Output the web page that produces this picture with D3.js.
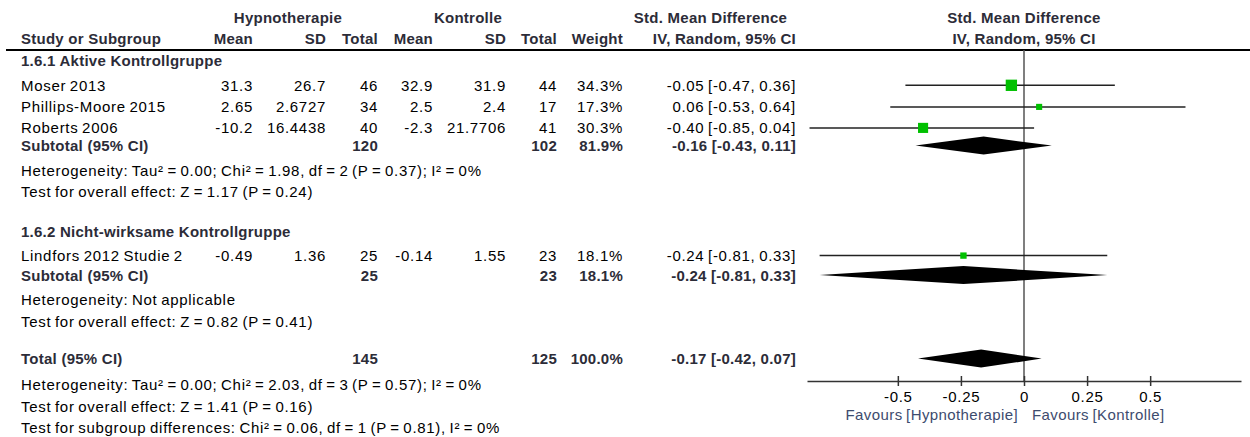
<!DOCTYPE html>
<html>
<head>
<meta charset="utf-8">
<script src="https://cdn.jsdelivr.net/npm/d3@7"></script>
<style>
  body { margin: 0; background: #fff; }
  svg text { font-family: "Liberation Sans", Arial, sans-serif; font-size: 15px; }
  .reg { fill: #000; letter-spacing: 0.7px; word-spacing: -1.2px; }
  .bold { fill: #2c2c38; font-weight: bold; letter-spacing: 0.25px; }
  .fav { fill: #3d4b6e; letter-spacing: 0.4px; word-spacing: -1px; }
</style>
</head>
<body>
<div id="forest"></div>
<script>
// studies
const studyNames = ["Moser 2013", "Phillips-Moore 2015", "Roberts 2006", "Lindfors 2012 Studie 2"];
const studyGroup = [0, 0, 0, 1];
const hypMean = ["31.3", "2.65", "-10.2", "-0.49"];
const hypSD = ["26.7", "2.6727", "16.4438", "1.36"];
const hypTotal = [46, 34, 40, 25];
const konMean = ["32.9", "2.5", "-2.3", "-0.14"];
const konSD = ["31.9", "2.4", "21.7706", "1.55"];
const konTotal = [44, 17, 41, 23];
const weights = [34.3, 17.3, 30.3, 18.1];
const smd = [-0.05, 0.06, -0.40, -0.24];
const ciLow = [-0.47, -0.53, -0.85, -0.81];
const ciHigh = [0.36, 0.64, 0.04, 0.33];

// subgroups
const groupTitles = ["1.6.1 Aktive Kontrollgruppe", "1.6.2 Nicht-wirksame Kontrollgruppe"];
const groupHypTotal = [120, 25];
const groupKonTotal = [102, 23];
const groupWeight = [81.9, 18.1];
const groupSmd = [-0.16, -0.24];
const groupLow = [-0.43, -0.81];
const groupHigh = [0.11, 0.33];
const groupHet = ["Heterogeneity: Tau\u00b2 = 0.00; Chi\u00b2 = 1.98, df = 2 (P = 0.37); I\u00b2 = 0%",
                  "Heterogeneity: Not applicable"];
const groupTest = ["Test for overall effect: Z = 1.17 (P = 0.24)",
                   "Test for overall effect: Z = 0.82 (P = 0.41)"];

// overall
const totalHyp = 145, totalKon = 125, totalWeight = 100.0;
const totalSmd = -0.17, totalLow = -0.42, totalHigh = 0.07;
const totalNotes = ["Heterogeneity: Tau\u00b2 = 0.00; Chi\u00b2 = 2.03, df = 3 (P = 0.57); I\u00b2 = 0%",
                    "Test for overall effect: Z = 1.41 (P = 0.16)",
                    "Test for subgroup differences: Chi\u00b2 = 0.06, df = 1 (P = 0.81), I\u00b2 = 0%"];

// axis
const tickValues = [-0.5, -0.25, 0, 0.25, 0.5];
const tickLabels = ["-0.5", "-0.25", "0", "0.25", "0.5"];
const axisExtent = [-0.86, 0.86];
const favoursLabels = ["Favours [Hypnotherapie]", "Favours [Kontrolle]"];

const W = 1250, H = 437;
const svg = d3.select("#forest").append("svg").attr("width", W).attr("height", H);

// column right edges
const col = { name: 21, hMean: 253, hSD: 326, hTot: 378, kMean: 433, kSD: 506, kTot: 557, wt: 623, ci: 796 };

// row baselines
const base = {
  h1: 22.5, h2: 44.3, rule: 50,
  title: [66, 237.3],
  study: [90.7, 112.3, 133.3, 261],
  sub: [151, 280.5],
  het: [176, 305],
  test: [196.7, 326.7],
  total: 364,
  notes: [390, 411.7, 433.3],
  axis: 381
};
const mid = 5.4; // baseline -> middle of text

const x = d3.scaleLinear().domain(axisExtent).range([807, 1241]);
const box = d3.scaleLinear().domain([0, 100]).range([0.8, 31.5]);

function txt(s, xp, yp, cls, anchor) {
  return svg.append("text").attr("x", xp).attr("y", yp)
    .attr("class", cls).attr("text-anchor", anchor || "start").text(s);
}
const fmtPct = d => d.toFixed(1) + "%";
const fmtCi = (m, l, h) => m.toFixed(2) + " [" + l.toFixed(2) + ", " + h.toFixed(2) + "]";

// header
txt("Hypnotherapie", 288, base.h1, "bold", "middle");
txt("Kontrolle", 468, base.h1, "bold", "middle");
txt("Std. Mean Difference", 710.5, base.h1, "bold", "middle");
txt("Std. Mean Difference", x(0), base.h1, "bold", "middle");
txt("Study or Subgroup", col.name, base.h2, "bold");
[["Mean", col.hMean], ["SD", col.hSD], ["Total", col.hTot], ["Mean", col.kMean],
 ["SD", col.kSD], ["Total", col.kTot], ["Weight", col.wt], ["IV, Random, 95% CI", col.ci]]
  .forEach(d => txt(d[0], d[1], base.h2, "bold", "end"));
txt("IV, Random, 95% CI", x(0), base.h2, "bold", "middle");

svg.append("line").attr("x1", 6).attr("x2", W).attr("y1", base.rule).attr("y2", base.rule)
  .attr("stroke", "#000").attr("stroke-width", 2);

// zero line
svg.append("line").attr("x1", x(0)).attr("x2", x(0)).attr("y1", base.rule).attr("y2", base.axis)
  .attr("stroke", "#555").attr("stroke-width", 1.5);

// subgroup titles + notes
groupTitles.forEach((t, g) => {
  txt(t, col.name, base.title[g], "bold");
  txt("Subtotal (95% CI)", col.name, base.sub[g], "bold");
  txt(groupHypTotal[g], col.hTot, base.sub[g], "bold", "end");
  txt(groupKonTotal[g], col.kTot, base.sub[g], "bold", "end");
  txt(fmtPct(groupWeight[g]), col.wt, base.sub[g], "bold", "end");
  txt(fmtCi(groupSmd[g], groupLow[g], groupHigh[g]), col.ci, base.sub[g], "bold", "end");
  txt(groupHet[g], col.name, base.het[g], "reg");
  txt(groupTest[g], col.name, base.test[g], "reg");
});

// study rows
studyNames.forEach((n, i) => {
  const yb = base.study[i];
  txt(n, col.name, yb, "reg");
  txt(hypMean[i], col.hMean, yb, "reg", "end");
  txt(hypSD[i], col.hSD, yb, "reg", "end");
  txt(hypTotal[i], col.hTot, yb, "reg", "end");
  txt(konMean[i], col.kMean, yb, "reg", "end");
  txt(konSD[i], col.kSD, yb, "reg", "end");
  txt(konTotal[i], col.kTot, yb, "reg", "end");
  txt(fmtPct(weights[i]), col.wt, yb, "reg", "end");
  txt(fmtCi(smd[i], ciLow[i], ciHigh[i]), col.ci, yb, "reg", "end");
});

// CI lines and boxes
const marks = svg.append("g");
marks.selectAll("line.ci").data(studyNames).join("line").attr("class", "ci")
  .attr("x1", (d, i) => x(ciLow[i])).attr("x2", (d, i) => x(ciHigh[i]))
  .attr("y1", (d, i) => base.study[i] - mid).attr("y2", (d, i) => base.study[i] - mid)
  .attr("stroke", "#222").attr("stroke-width", 1.5);
marks.selectAll("rect.box").data(studyNames).join("rect").attr("class", "box")
  .attr("x", (d, i) => x(smd[i]) - box(weights[i]) / 2)
  .attr("y", (d, i) => base.study[i] - mid - box(weights[i]) / 2)
  .attr("width", (d, i) => box(weights[i])).attr("height", (d, i) => box(weights[i]))
  .attr("fill", "#00c000");

// diamonds
function diamond(m, l, h, yc) {
  const hh = 9;
  marks.append("path")
    .attr("d", `M${x(l)},${yc} L${x(m)},${yc - hh} L${x(h)},${yc} L${x(m)},${yc + hh} Z`)
    .attr("fill", "#000");
}
groupSmd.forEach((m, g) => diamond(m, groupLow[g], groupHigh[g], base.sub[g] - mid));
diamond(totalSmd, totalLow, totalHigh, base.total - mid);

// total rows
txt("Total (95% CI)", col.name, base.total, "bold");
txt(totalHyp, col.hTot, base.total, "bold", "end");
txt(totalKon, col.kTot, base.total, "bold", "end");
txt(fmtPct(totalWeight), col.wt, base.total, "bold", "end");
txt(fmtCi(totalSmd, totalLow, totalHigh), col.ci, base.total, "bold", "end");
totalNotes.forEach((t, k) => txt(t, col.name, base.notes[k], "reg"));

// axis
const ax = svg.append("g").attr("transform", `translate(0,${base.axis})`)
  .call(d3.axisBottom(x).tickValues(tickValues).tickSize(5).tickSizeOuter(0).tickPadding(5.4)
    .tickFormat((d, i) => tickLabels[i]));
ax.select(".domain").attr("stroke", "#333").attr("stroke-width", 1.5);
ax.selectAll(".tick line").attr("y1", -5).attr("stroke", "#333").attr("stroke-width", 1.5);
ax.selectAll(".tick text").attr("class", "reg").attr("fill", "#222")
  .style("font-size", "15px").style("font-family", "Liberation Sans, Arial, sans-serif");

txt(favoursLabels[0], x(0) - 6, 420, "fav", "end");
txt(favoursLabels[1], x(0) + 8, 420, "fav", "start");
</script>
</body>
</html>
